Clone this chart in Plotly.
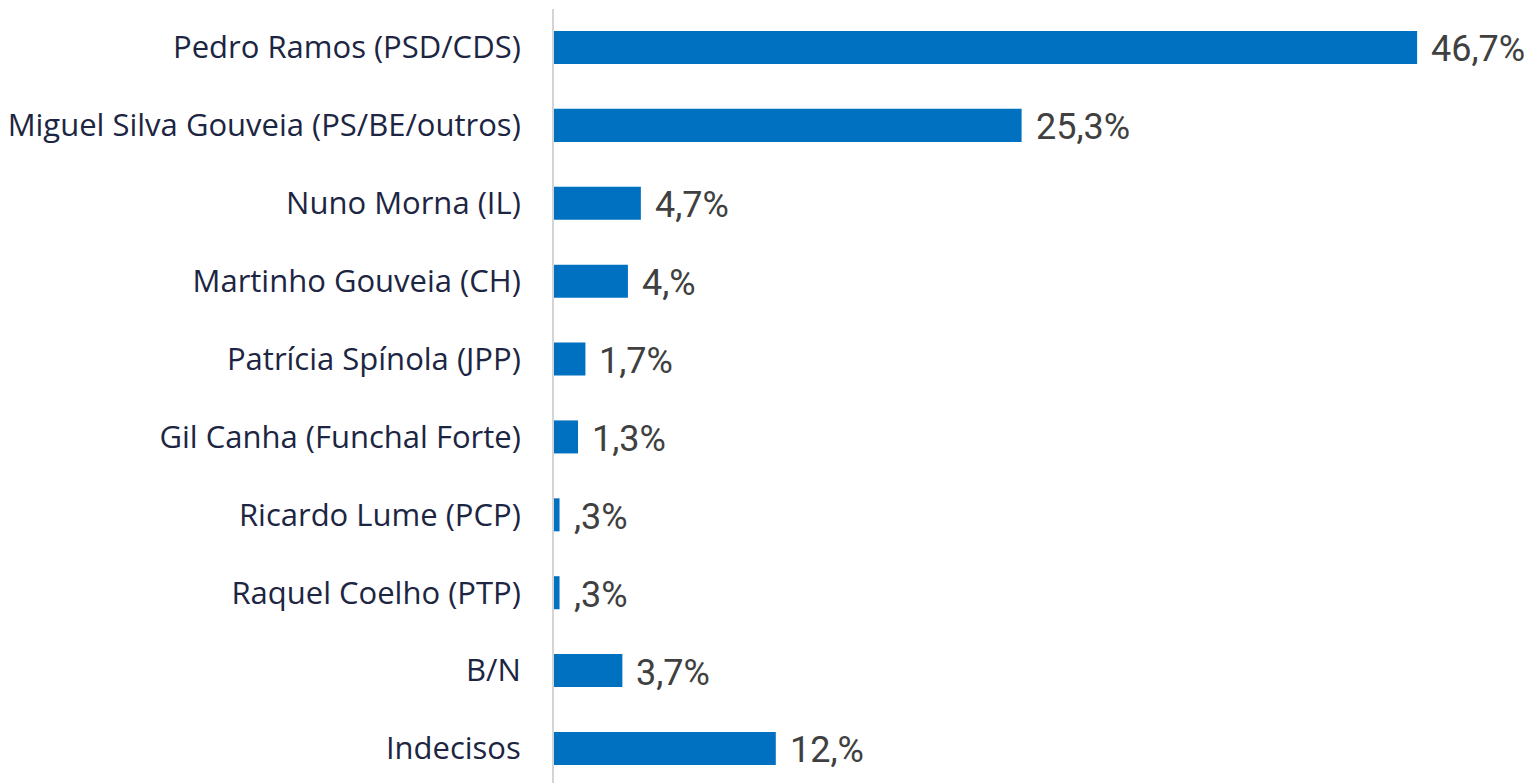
import plotly.graph_objects as go

categories = [
    "Pedro Ramos (PSD/CDS)",
    "Miguel Silva Gouveia (PS/BE/outros)",
    "Nuno Morna (IL)",
    "Martinho Gouveia (CH)",
    "Patrícia Spínola (JPP)",
    "Gil Canha (Funchal Forte)",
    "Ricardo Lume (PCP)",
    "Raquel Coelho (PTP)",
    "B/N",
    "Indecisos",
]
values = [46.7, 25.3, 4.7, 4.0, 1.7, 1.3, 0.3, 0.3, 3.7, 12.0]
value_labels = ["46,7%", "25,3%", "4,7%", "4,%", "1,7%", "1,3%", ",3%", ",3%", "3,7%", "12,%"]

BAR = "#0070C0"
LABEL_COLOR = "#1C2542"
VALUE_COLOR = "#404040"
FONT = "Open Sans"
VALUE_FONT = "Roboto"

fig = go.Figure()
fig.add_trace(go.Bar(
    x=values,
    y=categories,
    orientation="h",
    marker=dict(color=BAR, line=dict(width=0)),
    width=0.424,
    hoverinfo="skip",
))

annotations = []
for c, v, t in zip(categories, values, value_labels):
    annotations.append(dict(
        x=v, y=c, xref="x", yref="y", text=t, showarrow=False,
        xanchor="left", yanchor="middle", xshift=12, yshift=-2,
        font=dict(family=VALUE_FONT, size=36, color=VALUE_COLOR),
    ))

# page body adds an 8px offset, so the figure is sized to fill the rest of the window
fig.update_layout(
    width=1525, height=775,
    margin=dict(l=546, r=0, t=1, b=0, autoexpand=False),
    paper_bgcolor="white", plot_bgcolor="white",
    showlegend=False,
    annotations=annotations,
    xaxis=dict(range=[0, 52.97], visible=False, fixedrange=True, automargin=False),
    yaxis=dict(
        type="category",
        categoryorder="array", categoryarray=categories,
        range=[9.443, -0.494],
        showgrid=False, zeroline=False,
        showline=True, linecolor="#D4D4D4", linewidth=2,
        ticks="", ticklabelstandoff=25, automargin=False,
        tickfont=dict(family=FONT, size=31, color=LABEL_COLOR),
        fixedrange=True,
    ),
)

fig.write_html("out.html")
